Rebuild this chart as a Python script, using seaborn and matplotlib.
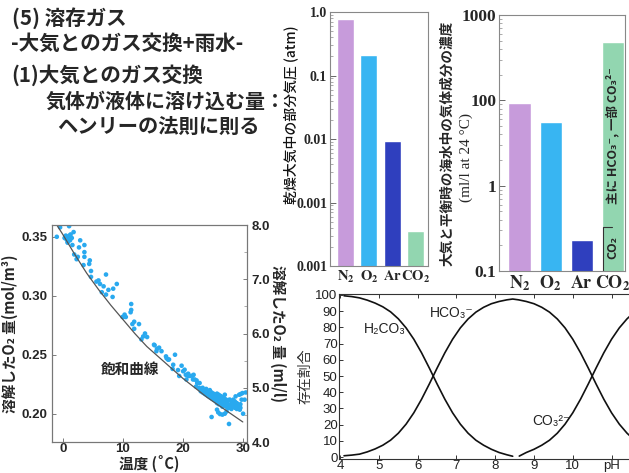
import numpy as np
import pandas as pd
import matplotlib
matplotlib.use('Agg')
import matplotlib.pyplot as plt
import matplotlib.ticker as mticker
import seaborn as sns

# ---- 棒グラフ (気体成分) ----
gases = ['N2', 'O2', 'Ar', 'CO2']
gas_labels = [r'$\mathbf{N_2}$', r'$\mathbf{O_2}$', r'$\mathbf{Ar}$', r'$\mathbf{CO_2}$']
gas_colors = ['#c79bdb', '#38b5f2', '#2f3fbe', '#92d6b0']
partial_pressure = [0.78, 0.21, 0.0093, 0.00036]      # atm
seawater_conc = [9.3, 5.6, 0.23, 48]                  # 軸目盛 0.1-100 基準
p_ticks = [1, 0.1, 0.01, 0.001, 0.0001]
p_ticklabels = ['1.0', '0.1', '0.01', '0.001', '0.001']
c_ticks = [100, 10, 1, 0.1]
c_ticklabels = ['1000', '100', '1', '0.1']

# ---- 溶存酸素 vs 水温 ----
obs_cold = [(-1.0, 0.350), (-0.45, 0.358), (1.05, 0.359), (0.3, 0.349), (0.6, 0.348),
            (0.9, 0.350), (1.2, 0.347), (1.5, 0.349), (0.8, 0.346), (1.1, 0.351),
            (0.5, 0.351), (1.3, 0.352), (1.8, 0.354), (0.8, 0.345), (1.6, 0.343),
            (2.9, 0.347), (3.6, 0.343), (2.7, 0.341), (3.6, 0.337), (1.9, 0.335),
            (2.5, 0.333), (2.3, 0.331), (3.6, 0.333), (4.5, 0.330), (4.4, 0.327),
            (3.45, 0.326), (4.7, 0.321), (4.7, 0.316), (7.2, 0.318), (5.95, 0.313),
            (6.2, 0.310), (5.6, 0.312), (9.0, 0.310), (6.8, 0.308), (8.4, 0.306),
            (7.6, 0.305), (6.5, 0.303), (7.2, 0.301), (8.3, 0.299), (9.95, 0.282)]
obs_mid = [(11.4, 0.293), (11.3, 0.286), (11.4, 0.288), (10.1, 0.282), (10.5, 0.282),
           (10.3, 0.284), (11.9, 0.278), (12.7, 0.276), (11.6, 0.276), (11.9, 0.272),
           (13.7, 0.268), (14.05, 0.265), (13.1, 0.263), (13.4, 0.2655), (15.3, 0.258),
           (15.2, 0.2585), (15.6, 0.253), (15.7, 0.255), (16.45, 0.253), (16.05, 0.256),
           (17.2, 0.2486), (17.3, 0.247), (17.55, 0.2458), (17.7, 0.246), (18.7, 0.250),
           (18.4, 0.2415), (18.3, 0.238), (19.2, 0.237), (19.8, 0.2407), (20.05, 0.236),
           (19.4, 0.232), (20.3, 0.2373), (20.9, 0.2339), (20.9, 0.232), (21.6, 0.2322),
           (21.7, 0.229), (20.6, 0.229), (20.5, 0.233), (21.2, 0.232), (21.8, 0.233),
           (22.0, 0.229), (22.3, 0.2282), (22.4, 0.226), (22.8, 0.226), (22.2, 0.223),
           (22.7, 0.222)]
obs_warm = [(23.0, 0.221), (23.0, 0.219), (23.3, 0.222), (23.3, 0.218), (23.6, 0.220),
            (23.6, 0.217), (23.9, 0.221), (23.9, 0.219), (23.9, 0.216), (24.2, 0.219),
            (24.2, 0.217), (24.2, 0.215), (24.5, 0.220), (24.5, 0.216), (24.5, 0.214),
            (24.8, 0.218), (24.8, 0.215), (24.8, 0.213), (25.1, 0.217), (25.1, 0.214),
            (25.1, 0.212), (25.1, 0.216), (25.4, 0.216), (25.4, 0.213), (25.4, 0.211),
            (25.7, 0.217), (25.7, 0.214), (25.7, 0.211), (25.7, 0.209), (26.0, 0.216),
            (26.0, 0.213), (26.0, 0.210), (26.0, 0.208), (26.3, 0.215), (26.3, 0.212),
            (26.3, 0.209), (26.6, 0.214), (26.6, 0.211), (26.6, 0.208), (26.6, 0.206),
            (26.9, 0.213), (26.9, 0.210), (26.9, 0.207), (27.2, 0.212), (27.2, 0.209),
            (27.2, 0.206), (27.5, 0.211), (27.5, 0.208), (27.5, 0.205), (27.8, 0.212),
            (27.8, 0.207), (27.8, 0.205), (28.1, 0.210), (28.1, 0.207), (28.1, 0.204),
            (28.4, 0.209), (28.4, 0.206), (28.7, 0.208), (28.7, 0.205), (29.0, 0.209),
            (29.0, 0.206), (29.0, 0.204), (29.3, 0.207), (29.3, 0.205), (29.6, 0.208),
            (29.6, 0.205),
            (27.0, 0.2161), (29.4, 0.2161), (29.95, 0.2175), (29.8, 0.2119), (28.4, 0.2119),
            (28.8, 0.2147), (24.8, 0.1972), (27.7, 0.1913), (25.9, 0.2011), (26.2, 0.1997),
            (26.6, 0.1992), (27.0, 0.2000), (25.7, 0.2034), (27.3, 0.2019), (29.67, 0.2167),
            (30.3, 0.2119), (29.05, 0.2062), (30.5, 0.218), (28.67, 0.2104), (29.5, 0.2034),
            (30.05, 0.2000)]
sat_temp = [-1, 0, 2, 4, 6, 8, 10, 12, 14, 16, 18, 20, 22, 24, 26, 28, 30]
sat_o2 = [0.360, 0.352, 0.335, 0.319, 0.305, 0.292, 0.280, 0.268, 0.257, 0.248,
          0.239, 0.230, 0.222, 0.214, 0.207, 0.200, 0.193]

# ---- 炭酸系の存在割合 (%) ----
ph_h2co3 = [4.1, 4.3, 4.5, 4.7, 4.9, 5.1, 5.3, 5.5, 5.7, 5.9, 6.1, 6.3, 6.5, 6.7, 6.9,
            7.1, 7.3, 7.5, 7.7, 7.9, 8.1, 8.3, 8.45]
h2co3 = [99.5, 99.0, 98.2, 96.8, 95.0, 92.7, 89.6, 85.3, 79.7, 72.7, 64.3, 54.9, 45.1,
         35.7, 27.3, 20.3, 14.7, 10.4, 7.3, 4.8, 2.8, 1.4, 0.5]
ph_hco3 = [4.1, 4.3, 4.5, 4.7, 4.9, 5.1, 5.3, 5.5, 5.7, 5.9, 6.1, 6.3, 6.5, 6.7, 6.9,
           7.1, 7.3, 7.5, 7.7, 7.9, 8.1, 8.3, 8.45, 8.6, 8.8, 9.0, 9.2, 9.4, 9.6, 9.8,
           10.0, 10.2, 10.4, 10.6, 10.8, 11.0, 11.2, 11.4, 11.5]
hco3 = [0.8, 1.2, 1.8, 3.2, 5.0, 7.3, 10.4, 14.7, 20.3, 27.3, 35.7, 45.1, 54.9, 64.3,
        72.7, 79.7, 85.2, 89.4, 92.4, 94.6, 96.0, 97.0, 97.5, 97.0, 96.0, 94.6, 92.4,
        89.4, 85.2, 79.7, 72.7, 64.3, 54.9, 45.1, 35.7, 27.3, 20.3, 14.7, 12.5]
ph_co3 = [8.62, 8.8, 9.0, 9.2, 9.4, 9.6, 9.8, 10.0, 10.2, 10.4, 10.6, 10.8, 11.0, 11.2,
          11.4, 11.5]
co3 = [0.6, 2.8, 4.8, 7.3, 10.4, 14.7, 20.3, 27.3, 35.7, 45.1, 54.9, 64.3, 72.7, 79.7,
       85.3, 87.5]

sns.set_theme(style='ticks')
plt.rcParams['font.family'] = ['Noto Sans CJK JP', 'DejaVu Sans']
plt.rcParams['mathtext.fontset'] = 'stix'
plt.rcParams['xtick.direction'] = 'in'
plt.rcParams['ytick.direction'] = 'in'
plt.rcParams['axes.linewidth'] = 0.8

W, H = 629, 473
fig = plt.figure(figsize=(W / 100, H / 100), dpi=100)


def box(l, t, r, b):
    return [l / W, 1 - b / H, (r - l) / W, (b - t) / H]


# 見出し
heading = [('(5) 溶存ガス', 12, 18, 14.8), ('-大気とのガス交換+雨水-', 11, 43, 14.8),
           ('(1)大気とのガス交換', 11, 75, 14.8), ('気体が液体に溶け込む量：', 46, 101, 14.4),
           ('ヘンリーの法則に則る', 57, 126, 14.6)]
for s, x, y, fs in heading:
    fig.text(x / W, 1 - y / H, s, fontsize=fs, fontweight='bold', va='center', ha='left')

serif = ['Liberation Serif', 'DejaVu Serif']
sans = ['Liberation Sans', 'DejaVu Sans']
cjk = ['Noto Sans CJK JP', 'DejaVu Sans']

# 棒グラフ1: 部分気圧
ax1 = fig.add_axes(box(330, 12, 428, 266))
df_p = pd.DataFrame({'gas': gases, 'val': partial_pressure})
sns.barplot(data=df_p, x='gas', y='val', hue='gas', palette=gas_colors, saturation=1,
            width=0.74, legend=False, ax=ax1)
ax1.set_yscale('log')
ax1.set_ylim(1e-4, 1)
ax1.set_xlim(-0.67, 3.54)
ax1.set_yticks(p_ticks)
ax1.set_yticklabels(p_ticklabels, fontfamily=serif, fontweight='bold', fontsize=10)
ax1.set_xticks(range(4))
ax1.set_xticklabels(gas_labels, fontsize=10.5)
ax1.set_xlabel('')
ax1.set_ylabel('')
fig.text(291 / W, 1 - 115 / H, '乾燥大気中の部分気圧 (atm)', rotation=90, fontsize=10,
         fontweight='medium', ha='center', va='center', color='#111')

# 棒グラフ2: 海水中の濃度
ax2 = fig.add_axes(box(499, 15, 625, 271))
df_c = pd.DataFrame({'gas': gases, 'val': seawater_conc})
sns.barplot(data=df_c, x='gas', y='val', hue='gas', palette=gas_colors, saturation=1,
            width=0.71, legend=False, ax=ax2)
ax2.set_yscale('log')
ax2.set_ylim(0.1, 100)
ax2.set_xlim(-0.66, 3.4)
ax2.set_yticks(c_ticks)
ax2.set_yticklabels(c_ticklabels, fontfamily=serif, fontweight='bold', fontsize=12.5)
ax2.set_xticks(range(4))
ax2.set_xticklabels(gas_labels, fontsize=13)
ax2.set_xlabel('')
ax2.set_ylabel('')
ax2.text(3, 0.19, 'CO₂', rotation=90, ha='center', va='center', fontsize=9,
         fontweight='bold', family=cjk)
ax2.text(3, 3.9, '主に HCO₃⁻, 一部 CO₃²⁻', rotation=90, ha='center', va='center',
         fontsize=9, fontweight='bold', family=cjk)
ax2.plot([2.69, 2.69, 2.98], [0.1, 0.33, 0.33], color='#333', lw=0.8, clip_on=False)
fig.text(447 / W, 1 - 143 / H, '大気と平衡時の海水中の気体成分の濃度', rotation=90,
         fontsize=9.8, fontweight='bold', ha='center', va='center')
fig.text(466 / W, 1 - 158 / H, '(ml/l at 24 °C)', rotation=90, fontsize=11,
         family=serif, ha='center', va='center')

for ax in (ax1, ax2):
    for sp in ax.spines.values():
        sp.set_color('#888')
    ax.tick_params(axis='y', which='major', length=4, width=0.7, color='#666', pad=2)
    ax.tick_params(axis='y', which='minor', length=2.5, width=0.5, color='#888')
    ax.tick_params(axis='x', length=0, pad=2)
    ax.yaxis.set_minor_locator(mticker.LogLocator(subs=np.arange(2, 10)))
    ax.yaxis.set_minor_formatter(mticker.NullFormatter())

# 溶存酸素の散布図
ax3 = fig.add_axes(box(52, 225, 247, 442))
obs = pd.DataFrame(obs_cold + obs_mid + obs_warm, columns=['t', 'o2'])
sns.scatterplot(data=obs, x='t', y='o2', s=11, color='#29a9ef', edgecolor='none',
                linewidth=0, ax=ax3)
sns.lineplot(x=sat_temp, y=sat_o2, color='#555555', lw=0.9, ax=ax3)
ax3.set_xlim(-1.8, 30.7)
ax3.set_ylim(0.176, 0.360)
ax3.set_xticks([0, 10, 20, 30])
ax3.set_yticks([0.20, 0.25, 0.30, 0.35])
ax3.yaxis.set_major_formatter(mticker.FormatStrFormatter('%.2f'))
ax3.set_xlabel('温度 (˚C)', fontsize=10.5, fontweight='bold')
ax3.xaxis.set_label_coords(0.5, -0.1)
ax3.xaxis.label.set_va('center')
ax3.set_ylabel('溶解したO₂ 量(mol/m³)', fontsize=10.5, fontweight='bold', labelpad=2)
ax3.tick_params(axis='x', pad=1)
for lab in ax3.get_xticklabels() + ax3.get_yticklabels():
    lab.set_fontfamily(sans)
    lab.set_fontweight('bold')
    lab.set_fontsize(9.5)
ax3.text(11.2, 0.238, '飽和曲線', fontsize=10.5, fontweight='bold', ha='center', va='center')
ax3r = ax3.twinx()
ax3r.set_ylim(4.0, 8.0)
ax3r.set_yticks([4.0, 5.0, 6.0, 7.0, 8.0])
ax3r.yaxis.set_major_formatter(mticker.FormatStrFormatter('%.1f'))
ax3r.yaxis.set_minor_locator(mticker.MultipleLocator(0.5))
ax3r.set_ylabel('溶解したO₂ 量 (ml/l)', fontsize=10.5, fontweight='bold', rotation=270,
                labelpad=11)
for lab in ax3r.get_yticklabels():
    lab.set_fontfamily(sans)
    lab.set_fontweight('bold')
    lab.set_fontsize(9.5)
for ax in (ax3, ax3r):
    ax.tick_params(length=3, width=0.6, color='#666')
    ax.tick_params(which='minor', length=2, width=0.5, color='#888')
    for sp in ax.spines.values():
        sp.set_color('#777')

# 炭酸系の存在割合
ax4 = fig.add_axes(box(339, 294, 629, 459))
sns.lineplot(x=ph_h2co3, y=h2co3, color='#111', lw=1.2, ax=ax4)
sns.lineplot(x=ph_hco3, y=hco3, color='#111', lw=1.2, ax=ax4)
sns.lineplot(x=ph_co3, y=co3, color='#111', lw=1.2, ax=ax4)
ax4.set_xlim(3.97, 11.45)
ax4.set_ylim(-1.2, 100.6)
ax4.set_xticks(range(4, 12))
ax4.set_xticklabels(['4', '5', '6', '7', '8', '9', '10', 'pH'])
ax4.set_yticks(range(0, 101, 10))
ax4.spines['right'].set_visible(False)
ax4.tick_params(top=True, length=3, width=0.7, color='#333', pad=1)
for lab in ax4.get_xticklabels() + ax4.get_yticklabels():
    lab.set_fontfamily(sans)
    lab.set_fontsize(9.5)
    lab.set_color('#222')
ax4.set_ylabel('存在割合', fontsize=10, color='#333', labelpad=2)
ax4.text(5.16, 79, 'H₂CO₃', family=sans, fontsize=10, ha='center', va='center', color='#222')
ax4.text(6.88, 89, 'HCO₃⁻', family=sans, fontsize=10, ha='center', va='center', color='#222')
ax4.text(9.45, 22, 'CO₃²⁻', family=sans, fontsize=10, ha='center', va='center', color='#222')
for sp in ax4.spines.values():
    sp.set_color('#333')

fig.savefig('out.png', dpi=100)
